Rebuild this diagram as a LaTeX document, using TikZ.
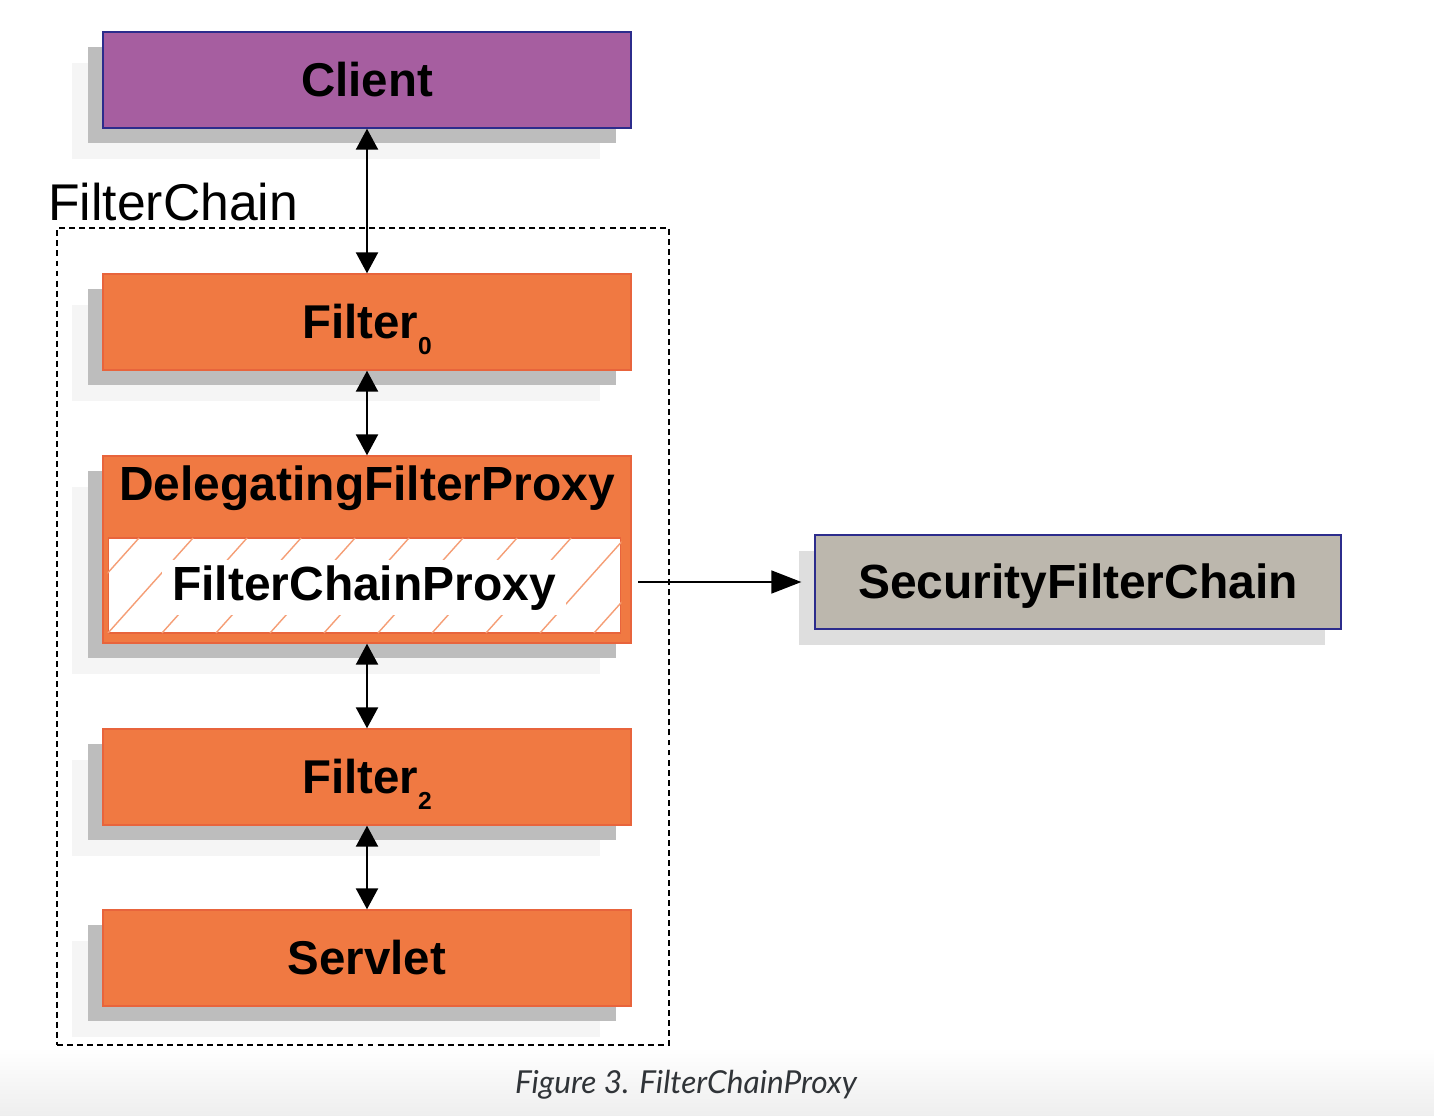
\documentclass[tikz,border=0pt]{standalone}
\usepackage{fontspec}
\setmainfont{Liberation Sans}
\newfontfamily\captionfont{Lato}
\usetikzlibrary{arrows.meta,shadows}

\definecolor{clientfill}{RGB}{166,94,160}
\definecolor{navyedge}{RGB}{44,44,140}
\definecolor{filterfill}{RGB}{240,121,66}
\definecolor{filteredge}{RGB}{232,100,60}
\definecolor{hatchline}{RGB}{245,158,118}
\definecolor{chainfill}{RGB}{188,183,173}
\definecolor{shadowdark}{RGB}{189,189,189}
\definecolor{shadowlight}{RGB}{245,245,245}
\definecolor{shadowsoft}{RGB}{222,222,222}
\definecolor{captiongray}{RGB}{48,52,56}
\definecolor{captionband}{RGB}{238,238,238}

% lowered index digit, as in Filter_0
\newcommand\lowidx[1]{\raisebox{-9pt}{\fontsize{14pt}{14pt}\selectfont #1}}

\tikzset{
  box/.style={rectangle, minimum width=10.56cm, minimum height=1.92cm,
    inner sep=0pt, line width=0.8pt,
    font=\fontsize{27}{27}\selectfont\bfseries,
    text height=19.3pt, text depth=0pt},
  twoshadow/.style={
    general shadow={fill=shadowlight, shadow xshift=-0.62cm, shadow yshift=-0.62cm},
    general shadow={fill=shadowdark, shadow xshift=-0.30cm, shadow yshift=-0.30cm}},
  filterbox/.style={box, twoshadow, fill=filterfill, draw=filteredge},
  biarrow/.style={{Triangle[length=0.42cm,width=0.44cm]}-{Triangle[length=0.42cm,width=0.44cm]},
    line width=1.3pt},
  onearrow/.style={-{Triangle[length=0.6cm,width=0.46cm]}, line width=0.9pt},
}

\begin{document}
\begin{tikzpicture}[x=0.02cm, y=-0.02cm]
  \useasboundingbox (0,0) rectangle (1434,1116);
  \fill[white] (0,0) rectangle (1434,1116);
  \shade[top color=white, bottom color=captionband] (0,1048) rectangle (1434,1116);

  % container of the filter chain
  \node[draw, line width=1.1pt, dash pattern=on 3.4pt off 2.3pt,
        minimum width=12.24cm, minimum height=16.34cm, inner sep=0pt]
        (chain) at (363,636.5) {};
  \node[anchor=base west, inner sep=0pt, font=\fontsize{29.4}{29.4}\selectfont]
        (chainlabel) at (48,220) {FilterChain};

  % boxes
  \node[box, twoshadow, fill=clientfill, draw=navyedge] (client) at (367,80) {Client};
  \node[filterbox] (f0) at (367,322) {Filter\lowidx{0}};
  \node[filterbox, minimum height=3.74cm] (dfp) at (367,549.5) {};
  \node[anchor=base, inner sep=0pt, font=\fontsize{27.3}{27.3}\selectfont\bfseries]
        (dfplabel) at (367,500) {DelegatingFilterProxy};
  \node[rectangle, fill=white, draw=filteredge, line width=0.6pt,
        minimum width=10.26cm, minimum height=1.9cm, inner sep=0pt]
        (fcp) at (364.5,585.5) {};
  % diagonal hatching inside the proxy box
  \begin{scope}
    \clip (fcp.south west) rectangle (fcp.north east);
    \foreach \i in {-2,...,10}
      \draw[hatchline, line width=0.8pt] (108+\i*54,633) -- ++(85,-95);
  \end{scope}
  \node[anchor=base, fill=white, inner xsep=6pt, inner ysep=3pt,
        font=\fontsize{27.3}{27.3}\selectfont\bfseries]
        (fcplabel) at (364,600) {FilterChainProxy};
  \node[filterbox] (f2) at (367,777) {Filter\lowidx{2}};
  \node[filterbox] (servlet) at (367,958) {Servlet};

  \node[box, minimum width=10.52cm, minimum height=1.88cm,
        font=\fontsize{27.3}{27.3}\selectfont\bfseries,
        general shadow={fill=shadowsoft, shadow xshift=-0.32cm, shadow yshift=-0.32cm},
        fill=chainfill, draw=navyedge] (sfc) at (1078,582) {SecurityFilterChain};

  % connectors
  \draw[biarrow] (client.south) -- (f0.north);
  \draw[biarrow] (f0.south) -- (dfp.north);
  \draw[biarrow] (dfp.south) -- (f2.north);
  \draw[biarrow] (f2.south) -- (servlet.north);
  \draw[onearrow, shorten <=0.34cm, shorten >=0.26cm] (fcp.east |- sfc.west) -- (sfc.west);

  % caption
  \node[font=\captionfont\itshape\fontsize{18}{18}\selectfont, text=captiongray, inner sep=0pt]
        (caption) at (686,1085) {Figure 3. FilterChainProxy};
\end{tikzpicture}
\end{document}
